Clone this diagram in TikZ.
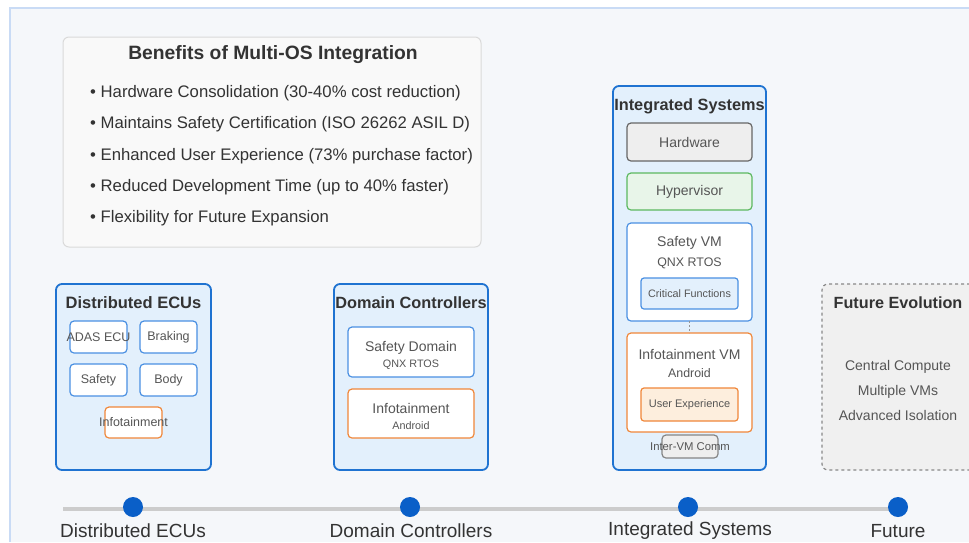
\documentclass[tikz,border=0pt]{standalone}
\usepackage{fontspec}
\setmainfont{Liberation Sans}
\definecolor{panelbg}{HTML}{F5F7FA}
\definecolor{panelln}{HTML}{C9DBF5}
\definecolor{outerblue}{HTML}{1F73D1}
\definecolor{outerfill}{HTML}{E3F0FC}
\definecolor{innerblue}{HTML}{4A90E2}
\definecolor{orng}{HTML}{F0873A}
\definecolor{orngfill}{HTML}{FDEEDD}
\definecolor{grn}{HTML}{5CB860}
\definecolor{grnfill}{HTML}{E8F5E9}
\definecolor{hwgray}{HTML}{666666}
\definecolor{hwfill}{HTML}{EEEEEE}
\definecolor{futfill}{HTML}{F0F0F0}
\definecolor{futline}{HTML}{888888}
\definecolor{benfill}{HTML}{F9F9F9}
\definecolor{benline}{HTML}{DADADA}
\definecolor{txtdark}{HTML}{333333}
\definecolor{txtmid}{HTML}{555555}
\definecolor{tlline}{HTML}{CCCCCC}
\definecolor{tldot}{HTML}{0A5FC8}
\newcommand{\fs}[1]{\fontsize{#1}{#1}\selectfont}
\begin{document}
\begin{tikzpicture}[x=1pt,y=-1pt,
  box/.style={rounded corners=4pt, inner sep=0pt, outer sep=0pt, anchor=north west},
  outerbox/.style={box, draw=outerblue, fill=outerfill, line width=1.8pt, rounded corners=6pt},
  bluebox/.style={box, draw=innerblue, fill=white, line width=1.2pt},
  orangebox/.style={box, draw=orng, fill=white, line width=1.2pt},
  graybox/.style={box, draw=hwgray, fill=hwfill, line width=1.2pt},
  greenbox/.style={box, draw=grn, fill=grnfill, line width=1.2pt},
  ttl/.style={inner sep=0pt, text=txtdark, font=\bfseries},
  lbl/.style={inner sep=0pt, text=txtmid},
  dot/.style={circle, fill=tldot, minimum size=20pt, inner sep=0pt},
  tllabel/.style={inner sep=0pt, text=txtdark, font=\fs{19}}
]
\useasboundingbox (0,0) rectangle (969,542);
\fill[white] (0,0) rectangle (969,542);
\fill[panelbg] (10,8) rectangle (969,542);
\draw[panelln, line width=1.5pt] (10,542) -- (10,8) -- (969,8);

% Benefits box
\node[box, draw=benline, fill=benfill, line width=1pt, rounded corners=6pt, minimum width=418pt, minimum height=210pt] (ben) at (63,37) {};
\node[ttl, font=\bfseries\fs{19.3}] (bentitle) at (273,55) {Benefits of Multi-OS Integration};
\node[inner sep=0pt, anchor=west, text=txtdark, font=\fs{16.7}] (b1) at (90,93) {• Hardware Consolidation (30-40\% cost reduction)};
\node[inner sep=0pt, anchor=west, text=txtdark, font=\fs{16.7}] (b2) at (90,124) {• Maintains Safety Certification (ISO 26262 ASIL D)};
\node[inner sep=0pt, anchor=west, text=txtdark, font=\fs{16.7}] (b3) at (90,156) {• Enhanced User Experience (73\% purchase factor)};
\node[inner sep=0pt, anchor=west, text=txtdark, font=\fs{16.7}] (b4) at (90,187) {• Reduced Development Time (up to 40\% faster)};
\node[inner sep=0pt, anchor=west, text=txtdark, font=\fs{16.7}] (b5) at (90,218) {• Flexibility for Future Expansion};

% Distributed ECUs
\node[outerbox, minimum width=155pt, minimum height=186pt] (ecu) at (56,284) {};
\node[ttl, font=\bfseries\fs{16.5}] (ecutitle) at (133.5,303) {Distributed ECUs};
\node[bluebox, minimum width=57pt, minimum height=32pt] (adas) at (70,321) {};
\node[lbl, font=\fs{12.5}] (adast) at (adas.center) {ADAS ECU};
\node[bluebox, minimum width=57pt, minimum height=32pt] (brak) at (140,321) {};
\node[lbl, font=\fs{12.5}] (brakt) at (brak.center) {Braking};
\node[bluebox, minimum width=57pt, minimum height=32pt] (safe) at (70,364) {};
\node[lbl, font=\fs{12.5}] (safet) at (safe.center) {Safety};
\node[bluebox, minimum width=57pt, minimum height=32pt] (body) at (140,364) {};
\node[lbl, font=\fs{12.5}] (bodyt) at (body.center) {Body};
\node[orangebox, minimum width=57pt, minimum height=31pt] (info) at (105,407) {};
\node[lbl, font=\fs{12.5}] (infot) at (info.center) {Infotainment};

% Domain Controllers
\node[outerbox, minimum width=154pt, minimum height=186pt] (dom) at (334,284) {};
\node[ttl, font=\bfseries\fs{16.3}] (domtitle) at (411,303) {Domain Controllers};
\node[bluebox, minimum width=126pt, minimum height=50pt] (sd) at (348,327) {};
\node[lbl, font=\fs{14}] (sdt) at (411,348) {Safety Domain};
\node[lbl, font=\fs{10.8}] (sds) at (411,365) {QNX RTOS};
\node[orangebox, minimum width=126pt, minimum height=49pt] (di) at (348,389) {};
\node[lbl, font=\fs{14}] (dit) at (411,408) {Infotainment};
\node[lbl, font=\fs{10.8}] (dis) at (411,426) {Android};

% Integrated Systems
\node[outerbox, minimum width=153pt, minimum height=384pt] (ints) at (613,86) {};
\node[ttl, font=\bfseries\fs{16.3}] (intstitle) at (689.5,106) {Integrated Systems};
\node[graybox, minimum width=125pt, minimum height=38pt] (hw) at (627,123) {};
\node[lbl, font=\fs{14}] (hwt) at (hw.center) {Hardware};
\node[greenbox, minimum width=125pt, minimum height=37pt] (hv) at (627,173) {};
\node[lbl, font=\fs{14}] (hvt) at (hv.center) {Hypervisor};
\node[bluebox, minimum width=125pt, minimum height=98pt] (svm) at (627,223) {};
\node[lbl, font=\fs{14}] (svmt) at (689.5,243) {Safety VM};
\node[lbl, font=\fs{12.4}] (svms) at (689.5,263) {QNX RTOS};
\node[lbl, font=\fs{10.8}, draw=innerblue, fill=outerfill, line width=1.2pt, rounded corners=3pt, minimum width=97pt, minimum height=31pt] (crit) at (689.5,293.5) {Critical Functions};
\node[orangebox, minimum width=125pt, minimum height=99pt] (ivm) at (627,333) {};
\node[lbl, font=\fs{14}] (ivmt) at (689.5,354) {Infotainment VM};
\node[lbl, font=\fs{12.4}] (ivms) at (689.5,373) {Android};
\node[lbl, font=\fs{11}, draw=orng, fill=orngfill, line width=1.2pt, rounded corners=3pt, minimum width=97pt, minimum height=33pt] (ux) at (689.5,404.5) {User Experience};
\node[graybox, draw=hwgray!80, minimum width=56pt, minimum height=23pt] (ivc) at (662,435) {};
\node[lbl, font=\fs{11.3}] (ivct) at (690,447) {Inter-VM Comm};
\draw[hwgray!70, line width=1pt, dash pattern=on 2pt off 2pt] (svm.south) -- (ivm.north);

% Future Evolution
\node[box, draw=futline, fill=futfill, line width=1.2pt, dashed, rounded corners=6pt, minimum width=160pt, minimum height=186pt] (fut) at (822,284) {};
\node[ttl, font=\bfseries\fs{16.2}] (futtitle) at (898,303) {Future Evolution};
\node[lbl, font=\fs{14}] (f1) at (898,367) {Central Compute};
\node[lbl, font=\fs{14}] (f2) at (898,391.5) {Multiple VMs};
\node[lbl, font=\fs{14}] (f3) at (898,415.5) {Advanced Isolation};

% Timeline
\coordinate (tlstart) at (63,509);
\coordinate (tlend) at (898,509);
\draw[tlline, line width=4.5pt] (tlstart) -- (tlend);
\node[dot] (d1) at (133,507) {};
\node[dot] (d2) at (410,507) {};
\node[dot] (d3) at (688,507) {};
\node[dot] (d4) at (898,507) {};
\node[tllabel] (l1) at (133,531) {Distributed ECUs};
\node[tllabel] (l2) at (411,531) {Domain Controllers};
\node[tllabel] (l3) at (690,531) {Integrated Systems};
\node[tllabel] (l4) at (898,531) {Future};
\end{tikzpicture}
\end{document}
